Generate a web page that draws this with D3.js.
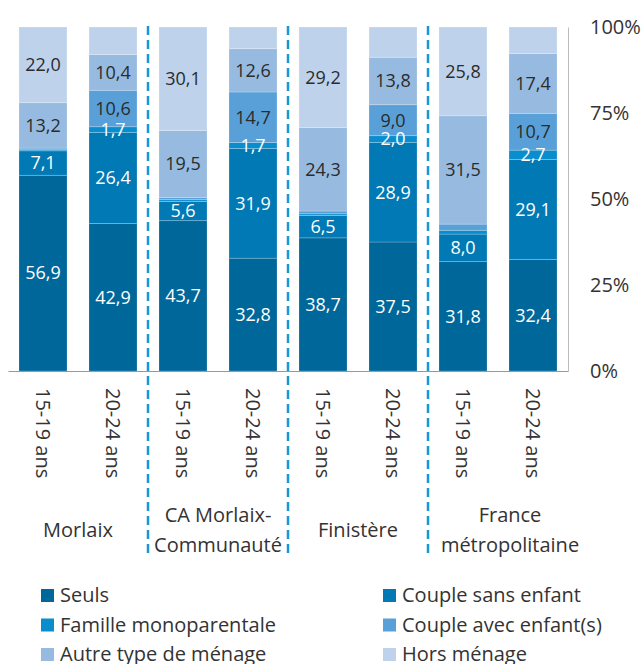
<!DOCTYPE html>
<html>
<head>
<meta charset="utf-8">
<script src="https://cdn.jsdelivr.net/npm/d3@7"></script>
<style>
  body { margin: 0; background: #fff; }
  svg text { font-family: "Open Sans", sans-serif; fill: #333; }
</style>
</head>
<body>
<script>
// data
var groups = ["Morlaix", "CA Morlaix-\nCommunauté", "Finistère", "France\nmétropolitaine"];
var ages = ["15-19 ans", "20-24 ans"];
var seriesNames = ["Seuls", "Couple sans enfant", "Famille monoparentale", "Couple avec enfant(s)", "Autre type de ménage", "Hors ménage"];
var seuls = [56.9, 42.9, 43.7, 32.8, 38.7, 37.5, 31.8, 32.4];
var coupleSansEnfant = [7.1, 26.4, 5.6, 31.9, 6.5, 28.9, 8.0, 29.1];
var familleMono = [0.3, 1.7, 0.5, 1.7, 0.5, 2.0, 1.1, 2.7];
var coupleAvecEnfants = [0.5, 10.6, 0.6, 14.7, 0.8, 9.0, 1.8, 10.7];
var autreMenage = [13.2, 10.4, 19.5, 12.6, 24.3, 13.8, 31.5, 17.4];
var horsMenage = [22.0, 8.0, 30.1, 6.3, 29.2, 8.8, 25.8, 7.7];
var horsLabelShown = [true, false, true, false, true, false, true, false];
var yTicks = [0, 25, 50, 75, 100];

var colors = ["#00679a", "#0079b5", "#0a8dcc", "#5aa0d8", "#97bbe0", "#bed3eb"];
var allSeries = [seuls, coupleSansEnfant, familleMono, coupleAvecEnfants, autreMenage, horsMenage];

// one row per bar
var rows = [];
groups.forEach(function (g, gi) {
  ages.forEach(function (a, ai) {
    var i = gi * ages.length + ai;
    var r = { key: i, group: g, age: a };
    seriesNames.forEach(function (s, si) { r[s] = allSeries[si][i]; });
    rows.push(r);
  });
});

var width = 643, height = 664;
var svg = d3.select("body").append("svg").attr("width", width).attr("height", height);

var x = d3.scaleBand()
  .domain(rows.map(function (d) { return d.key; }))
  .range([8, 568])
  .paddingInner(22 / 70)
  .paddingOuter(11 / 70);
var y = d3.scaleLinear().domain([0, 100]).range([371, 27]);

var stack = d3.stack().keys(seriesNames);
var layers = stack(rows);

var layerG = svg.selectAll("g.layer")
  .data(layers)
  .enter()
  .append("g")
  .attr("class", "layer")
  .attr("fill", function (d, i) { return colors[i]; });

layerG.selectAll("rect")
  .data(function (d) { return d; })
  .enter()
  .append("rect")
  .attr("x", function (d) { return x(d.data.key); })
  .attr("y", function (d) { return y(d[1]); })
  .attr("width", x.bandwidth())
  .attr("height", function (d) { return y(d[0]) - y(d[1]); })
  .attr("stroke", "rgba(255,255,255,0.25)")
  .attr("stroke-width", 0.8);

// value labels (famille monoparentale labelled from 1.5, others only when wide enough)
layers.forEach(function (layer, si) {
  var minV = si === 2 ? 1.5 : 4;
  svg.append("g")
    .selectAll("text")
    .data(layer.filter(function (d) {
      var v = d[1] - d[0];
      if (si === 5 && !horsLabelShown[d.data.key]) return false;
      return v >= minV;
    }))
    .enter()
    .append("text")
    .attr("x", function (d) { return x(d.data.key) + x.bandwidth() / 2; })
    .attr("y", function (d) { return (y(d[0]) + y(d[1])) / 2; })
    .attr("dy", "0.35em")
    .attr("text-anchor", "middle")
    .attr("font-size", 18)
    .style("fill", si < 3 ? "#fff" : "#2b2b2b")
    .text(function (d) { return d3.format(".1f")(d[1] - d[0]).replace(".", ","); });
});

// axes
var xAxis = svg.append("g")
  .attr("transform", "translate(0,371)")
  .call(d3.axisBottom(x).tickSize(0).tickSizeOuter(0).tickFormat(function (k) { return rows[k].age; }));
xAxis.select(".domain").attr("stroke", "#999");
xAxis.selectAll("text")
  .attr("transform", "rotate(90)")
  .attr("x", 17)
  .attr("y", 0)
  .attr("dy", "0.35em")
  .attr("text-anchor", "start")
  .attr("font-size", 20)
  .attr("font-family", "Open Sans");

var yAxis = svg.append("g")
  .attr("transform", "translate(568,0)")
  .call(d3.axisRight(y).tickValues(yTicks).tickSize(0).tickSizeOuter(0).tickPadding(22)
    .tickFormat(function (d) { return d + "%"; }));
yAxis.select(".domain").attr("stroke", "#bbb");
yAxis.selectAll("text").attr("font-size", 20).attr("font-family", "Open Sans");

// group separators
var gap = x.step() - x.bandwidth();
for (var gi = 1; gi < groups.length; gi++) {
  var sx = x(gi * ages.length) - gap / 2;
  svg.append("line")
    .attr("x1", sx).attr("x2", sx)
    .attr("y1", 26).attr("y2", 558)
    .attr("stroke", "#1a96d4")
    .attr("stroke-width", 2.5)
    .attr("stroke-dasharray", "9,5");
}

// group labels
groups.forEach(function (g, gi) {
  var first = x(gi * ages.length);
  var last = x(gi * ages.length + ages.length - 1) + x.bandwidth();
  var cx = (first + last) / 2;
  if (gi === groups.length - 1) cx += 12;
  var lines = g.split("\n");
  var t = svg.append("text")
    .attr("text-anchor", "middle")
    .attr("font-size", 20);
  lines.forEach(function (l, li) {
    t.append("tspan")
      .attr("x", cx)
      .attr("y", 537 + (li - (lines.length - 1) / 2) * 30)
      .text(l);
  });
});

// legend
var legend = svg.append("g");
seriesNames.forEach(function (s, i) {
  var col = i % 2, row = Math.floor(i / 2);
  var lx = col === 0 ? 41 : 383;
  var ly = 589 + row * 29.5;
  legend.append("rect")
    .attr("x", lx).attr("y", ly)
    .attr("width", 13).attr("height", 13)
    .attr("fill", colors[i]);
  legend.append("text")
    .attr("x", lx + 19)
    .attr("y", ly + 13)
    .attr("font-size", 20)
    .text(s);
});
</script>
</body>
</html>
